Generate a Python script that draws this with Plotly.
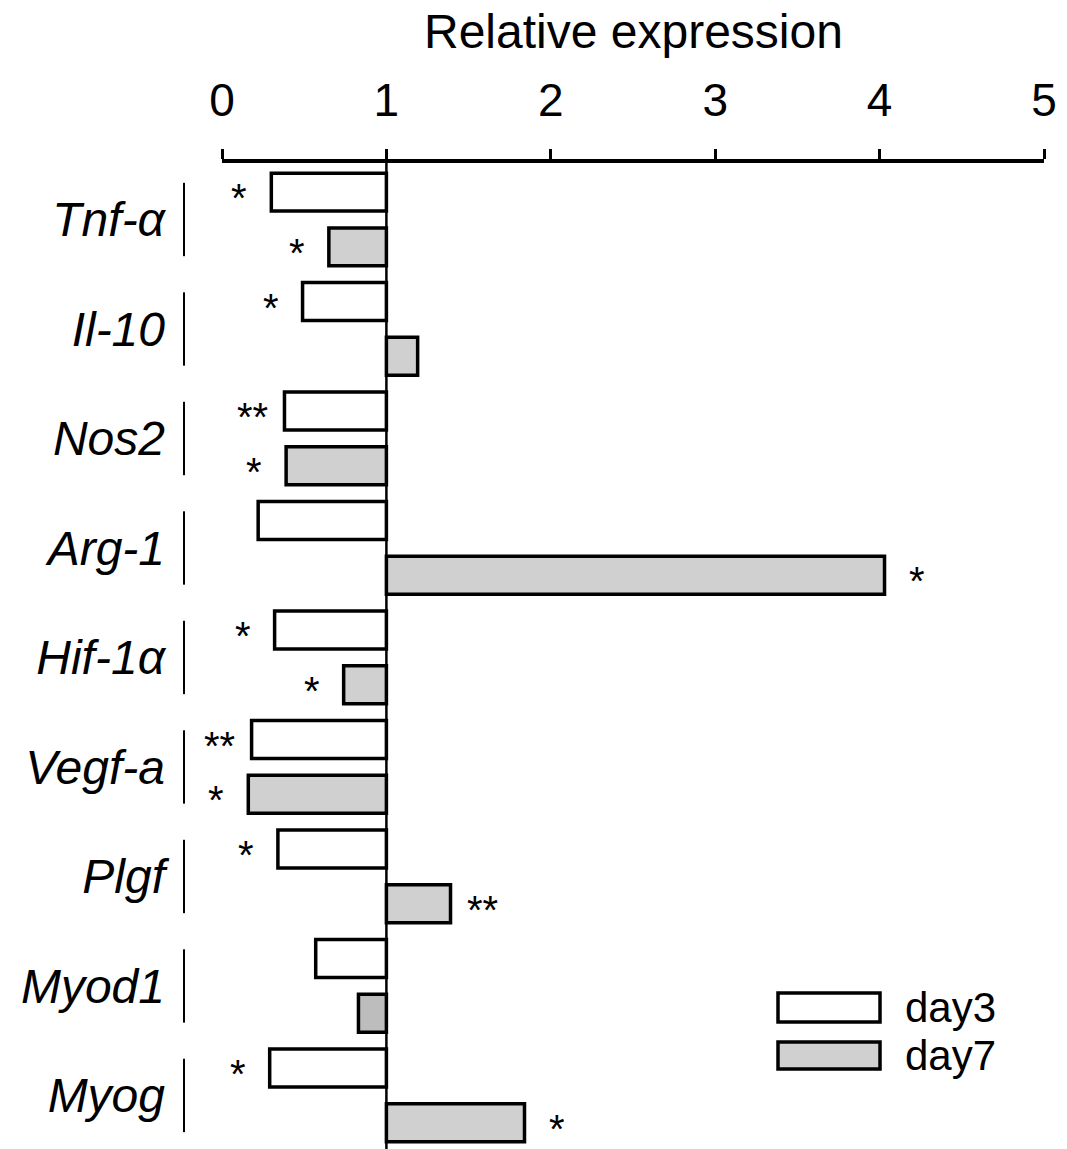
import plotly.graph_objects as go

# ---- data ----
genes = ["Tnf-α", "Il-10", "Nos2", "Arg-1", "Hif-1α", "Vegf-a", "Plgf", "Myod1", "Myog"]
day3 = [0.30, 0.49, 0.38, 0.22, 0.32, 0.18, 0.34, 0.57, 0.29]
day7 = [0.65, 1.19, 0.39, 4.03, 0.74, 0.16, 1.39, 0.83, 1.84]
sig3 = ["*", "*", "**", "", "*", "**", "*", "", "*"]
sig7 = ["*", "", "*", "*", "*", "*", "**", "", "*"]
xticks = [0, 1, 2, 3, 4, 5]

FONT = "Liberation Sans, Arial, sans-serif"
WHITE = "#ffffff"
GRAY = "#d0d0d0"
GRAY_DARK = "#bdbdbd"

BASE = 1.0
BW = 0.347
PAGE_OFF = 8  # default body margin of the html page

fig = go.Figure()
fig.add_trace(go.Bar(
    y=genes, x=[v - BASE for v in day3], base=BASE, orientation="h",
    width=BW, offset=-0.4235, name="day3",
    marker=dict(color=WHITE, line=dict(color="black", width=3.5)),
    showlegend=False,
))
fig.add_trace(go.Bar(
    y=genes, x=[v - BASE for v in day7], base=BASE, orientation="h",
    width=BW, offset=0.0765, name="day7",
    marker=dict(color=[GRAY_DARK if g == "Myod1" else GRAY for g in genes],
                line=dict(color="black", width=3.5)),
    showlegend=False,
))

annotations = []
SLOT_PX = 27.4
STAR_DX = 32
STAR_DY = -6
for g, v3, v7, s3, s7 in zip(genes, day3, day7, sig3, sig7):
    for v, s, dy in ((v3, s3, SLOT_PX), (v7, s7, -SLOT_PX)):
        if not s:
            continue
        annotations.append(dict(
            x=v, y=g, xref="x", yref="y", text=s, showarrow=False,
            xanchor="center", yanchor="middle",
            xshift=-STAR_DX if v < BASE else STAR_DX, yshift=dy + STAR_DY,
            font=dict(family=FONT, size=40, color="black"),
        ))

# axis title
annotations.append(dict(
    x=0.5, y=1, xref="paper", yref="paper", text="Relative expression",
    showarrow=False, xanchor="center", yanchor="middle", yshift=132,
    font=dict(family=FONT, size=48, color="black"),
))

# legend (manual)
leg = [("day3", WHITE, 0.1582, 0.1288), ("day7", GRAY, 0.1085, 0.0811)]
shapes = []
for name, col, ytop, ybot in leg:
    shapes.append(dict(type="rect", xref="paper", yref="paper",
                       x0=0.6764, x1=0.8005, y0=ybot, y1=ytop,
                       fillcolor=col, line=dict(color="black", width=3.5)))
    annotations.append(dict(
        x=0.8285, y=(ytop + ybot) / 2, xref="paper", yref="paper", text=name,
        showarrow=False, xanchor="left", yanchor="middle",
        font=dict(family=FONT, size=42, color="black"),
    ))

# group separator lines left of plot
for i, g in enumerate(genes):
    shapes.append(dict(type="line", xref="paper", yref="y",
                       x0=-0.0462, x1=-0.0462, y0=i - 0.335, y1=i + 0.335,
                       line=dict(color="black", width=2)))

# reference line at 1
shapes.append(dict(type="line", xref="x", yref="paper", x0=BASE, x1=BASE,
                   y0=0, y1=1, line=dict(color="black", width=2.5), layer="above"))

fig.update_layout(
    width=1067 - PAGE_OFF, height=1149 - PAGE_OFF,
    margin=dict(l=222 - PAGE_OFF, r=23, t=163 - PAGE_OFF, b=0, pad=0),
    paper_bgcolor="white", plot_bgcolor="white",
    barmode="overlay",
    font=dict(family=FONT, color="black"),
    annotations=annotations, shapes=shapes,
    xaxis=dict(
        side="top", range=[0, 5], tickvals=xticks, ticktext=[str(t) for t in xticks],
        showline=True, linecolor="black", linewidth=3.5,
        ticks="outside", ticklen=10, tickwidth=3, tickcolor="black",
        showgrid=False, zeroline=False,
        tickfont=dict(family=FONT, size=46, color="black"),
        ticklabelstandoff=15,
    ),
    yaxis=dict(
        type="category", range=[8.489, -0.516],
        tickvals=genes, ticktext=[f"<i>{g}</i>" for g in genes],
        showline=False, ticks="", showgrid=False, zeroline=False,
        tickfont=dict(family=FONT, size=48, color="black"),
        ticklabelstandoff=56,
    ),
)

fig.write_html("out.html")
